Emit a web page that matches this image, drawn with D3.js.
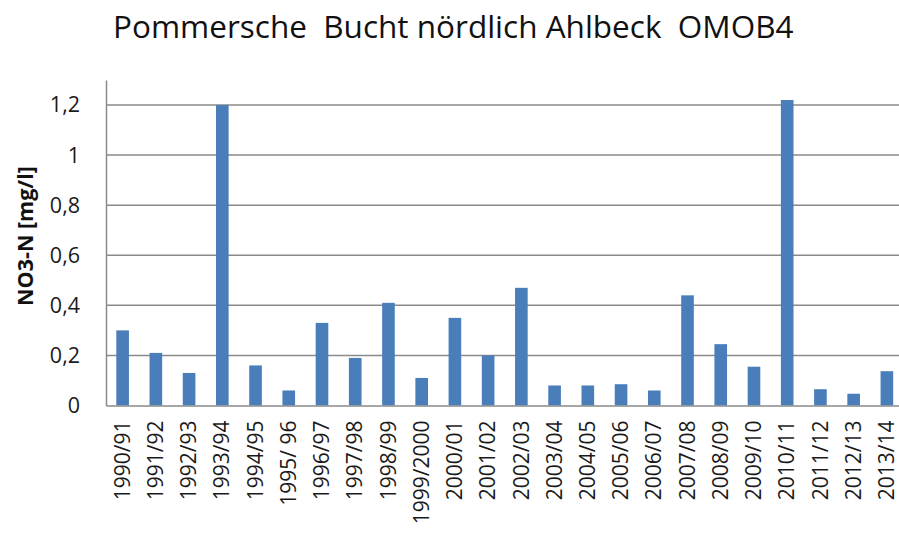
<!DOCTYPE html>
<html>
<head>
<meta charset="utf-8">
<script src="https://cdn.jsdelivr.net/npm/d3@7"></script>
<style>
  html, body { margin: 0; padding: 0; background: #fff; }
  svg { display: block; }
</style>
</head>
<body>
<svg id="chart" width="899" height="540"></svg>
<script>
const title = "Pommersche  Bucht nördlich Ahlbeck  OMOB4";
const yAxisTitle = "NO3-N [mg/l]";
const categories = ["1990/91","1991/92","1992/93","1993/94","1994/95","1995/ 96","1996/97","1997/98","1998/99","1999/2000","2000/01","2001/02","2002/03","2003/04","2004/05","2005/06","2006/07","2007/08","2008/09","2009/10","2010/11","2011/12","2012/13","2013/14"];
const values = [0.30,0.21,0.13,1.20,0.16,0.06,0.33,0.19,0.41,0.11,0.35,0.20,0.47,0.08,0.08,0.085,0.06,0.44,0.245,0.155,1.22,0.065,0.047,0.137];
const yTicks = [0,0.2,0.4,0.6,0.8,1,1.2];

(function () {
const svg = d3.select("#chart");
const font = "'Open Sans', 'Liberation Sans', sans-serif";
const mLeft = 106, mRight = 903.5, mTop = 80, mBottom = 405.5;

const x = d3.scaleBand().domain(categories).range([mLeft, mRight]).paddingInner(0.62).paddingOuter(0.31);
const y = d3.scaleLinear().domain([0, 1.3]).range([mBottom, mTop]);
const fmt = v => String(v).replace(".", ",");

// gridlines
svg.append("g").selectAll("line").data(yTicks.filter(d => d > 0)).join("line")
  .attr("x1", mLeft).attr("x2", 899)
  .attr("y1", d => y(d)).attr("y2", d => y(d))
  .attr("stroke", "#8a8a8a").attr("stroke-width", 1.5);

// bars
svg.append("g").selectAll("rect").data(values).join("rect")
  .attr("x", (d, i) => x(categories[i]))
  .attr("width", x.bandwidth())
  .attr("y", d => y(d))
  .attr("height", d => y(0) - y(d))
  .attr("fill", "#4a7ebb");

// y axis
const yAxis = svg.append("g").attr("transform", `translate(${mLeft},0)`)
  .call(d3.axisLeft(y).tickValues(yTicks).tickFormat(fmt).tickSize(0).tickPadding(26));
yAxis.select(".domain").attr("stroke", "#8a8a8a").attr("stroke-width", 1.5);
yAxis.selectAll("text").attr("font-family", font).attr("font-size", 21.5).attr("fill", "#1a1a1a");

// x axis
const xAxis = svg.append("g").attr("transform", `translate(0,${mBottom})`)
  .call(d3.axisBottom(x).tickSize(0).tickPadding(0));
xAxis.select(".domain").attr("stroke", "#8a8a8a").attr("stroke-width", 1.5);
xAxis.selectAll("text")
  .attr("font-family", font).attr("font-size", 21).attr("fill", "#1a1a1a")
  .attr("transform", "rotate(-90)")
  .attr("text-anchor", "end")
  .attr("x", -15).attr("y", 0).attr("dy", "0.34em");

// y axis title
svg.append("text")
  .attr("transform", "translate(33,236) rotate(-90)")
  .attr("text-anchor", "middle")
  .attr("font-family", font).attr("font-weight", "bold").attr("font-size", 21.5)
  .attr("fill", "#111")
  .text(yAxisTitle);

// chart title
svg.append("text")
  .attr("x", 113).attr("y", 38)
  .style("white-space", "pre")
  .attr("font-family", font).attr("font-size", 31.5)
  .attr("fill", "#111")
  .text(title);
})();
</script>
</body>
</html>
